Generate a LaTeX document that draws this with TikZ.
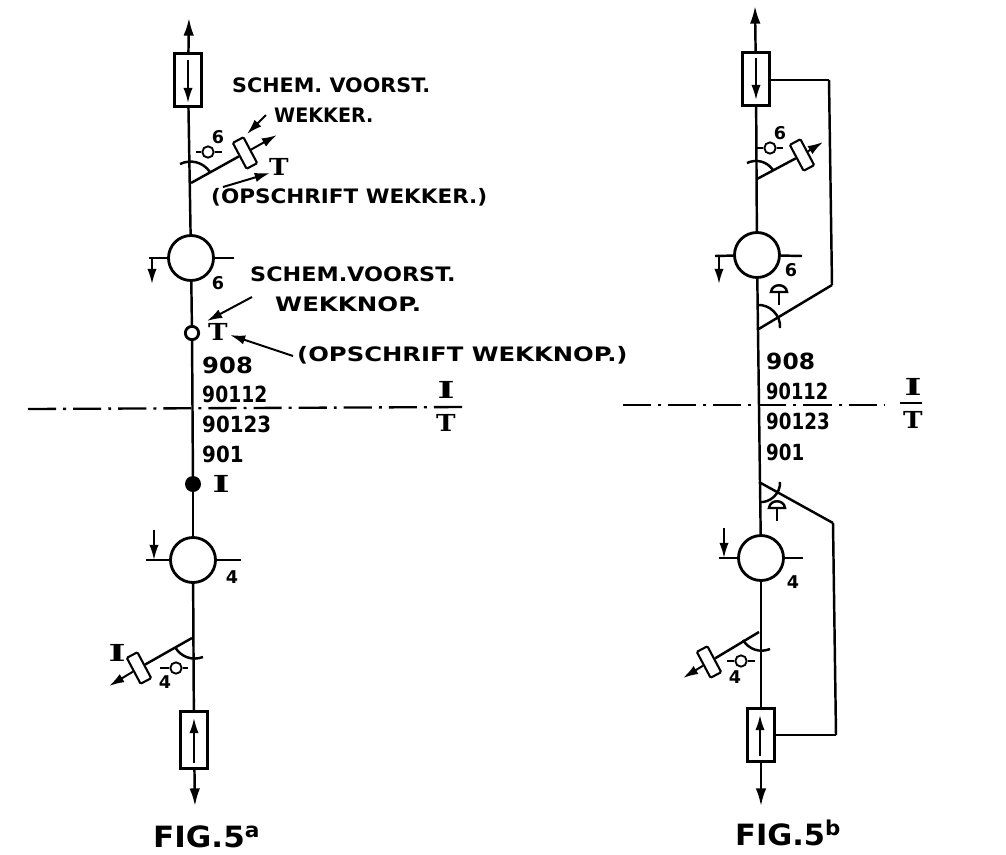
\documentclass[tikz,border=0pt]{standalone}
\usepackage{fontspec}
\usetikzlibrary{arrows.meta}
\setmainfont{DejaVu Sans}
\newfontfamily\slab{DejaVu Serif}
\newcommand{\wide}[2]{\scalebox{#1}[1]{#2}}
\tikzset{
	wire/.style={line width=2.1pt,-},
	tipwire/.style={line width=2.1pt,-{Latex[length=15pt,width=9pt]}},
	pointer/.style={line width=1.7pt,-{Latex[length=13pt,width=8pt]}},
	axisline/.style={line width=2pt,dash pattern=on 24pt off 6pt on 2.5pt off 6pt},
	sein/.style={draw,circle,line width=2.4pt,minimum size=1.35cm,inner sep=0pt},
	lamp/.style={draw,circle,line width=1.6pt,minimum size=0.34cm,inner sep=0pt},
	relais/.style={draw,rectangle,line width=2.3pt,minimum width=0.8cm,minimum height=1.6cm,inner sep=0pt},
	wekker/.style={draw,rectangle,line width=1.8pt,rounded corners=1pt,minimum width=0.36cm,minimum height=0.88cm,inner sep=0pt,rotate=28},
	word/.style={anchor=west,inner sep=0pt,font=\fontsize{17}{20}\selectfont\bfseries},
	num/.style={anchor=west,inner sep=0pt,font=\fontsize{19}{22}\selectfont\bfseries},
	digit/.style={inner sep=0pt,font=\fontsize{15}{17}\selectfont\bfseries},
	letter/.style={inner sep=0pt,font=\fontsize{20}{22}\slab\selectfont\bfseries},
	figlabel/.style={anchor=west,inner sep=0pt,font=\fontsize{25}{29}\selectfont\bfseries},
}
\begin{document}
\begin{tikzpicture}[x=0.03cm,y=-0.03cm]
		\useasboundingbox (0,0) rectangle (1006,854);

		\coordinate(tipa)at(189,18);
		\node[relais] at (188,80)(boxa){};
		\coordinate(ina)at(188,60);
		\coordinate(inb)at(188,103);
		\node[sein] at (191,258)(seina){};
		\coordinate(junca)at(191,183);
		\node[wekker] at (245,153)(weka){};
		\coordinate(wektipa)at(277,135);
		\coordinate(arca)at(180,164);
		\coordinate(arcb)at(210,172);
		\node[lamp] at (208,152)(lampa){};
		\coordinate(stuba)at(196,152);
		\coordinate(stubb)at(222,152);
		\coordinate(righta)at(234,258);
		\coordinate(lefta)at(149,258);
		\coordinate(turna)at(152,258);
		\coordinate(turnb)at(152,284);
		\node[digit] at (218,137)(sixa){6};
		\node[digit] at (218,283)(sixb){6};
		\node[word] at (232,85)(schema){\wide{1.04}{SCHEM. VOORST.}};
		\node[word] at (274,115)(wekkera){\wide{0.96}{WEKKER.}};
		\node[letter] at (279,167)(ta){\wide{1.12}{T}};
		\node[word] at (211,197)(opsa){\wide{1.08}{(OPSCHRIFT WEKKER.)}};
		\coordinate(pa)at(266,115);
		\coordinate(pb)at(247,134);
		\coordinate(pc)at(223,187);
		\coordinate(pd)at(270,173);
		\node[word] at (250,274)(schemb){\wide{1.12}{SCHEM.VOORST.}};
		\node[word] at (275,304)(wekknop){\wide{1.23}{WEKKNOP.}};
		\node[lamp,line width=2.4pt,minimum size=0.4cm] at (192,333)(knopa){};
		\node[letter] at (218,332)(tb){\wide{1.12}{T}};
		\node[word] at (297,355)(opsb){\wide{1.22}{(OPSCHRIFT WEKKNOP.)}};
		\coordinate(pe)at(252,297);
		\coordinate(pf)at(207,321);
		\coordinate(pg)at(293,356);
		\coordinate(ph)at(230,335);
		\node[num] at (202,365)(numa){\wide{1.09}{908}};
		\node[num] at (202,394)(numb){\wide{0.84}{90112}};
		\node[num] at (202,424)(numc){\wide{0.89}{90123}};
		\node[num] at (202,454)(numd){\wide{0.89}{901}};
		\coordinate(axa)at(28,409);
		\coordinate(axb)at(463,407);
		\node[letter] at (446,390)(ia){\wide{1.55}{I}};
		\node[letter] at (446,423)(tc){\wide{1.12}{T}};
		\coordinate(bara)at(434,407);
		\coordinate(barb)at(458,407);
		\node[circle,fill,inner sep=0pt,minimum size=0.48cm] at (193,484)(knopb){};
		\node[letter] at (221,484)(ib){\wide{1.55}{I}};
		\node[sein] at (193,560)(seinb){};
		\coordinate(rightb)at(241,560);
		\coordinate(leftb)at(146,560);
		\coordinate(turnc)at(154,530);
		\coordinate(turnd)at(154,560);
		\node[digit] at (232,577)(foura){4};
		\coordinate(juncb)at(192,638);
		\node[wekker] at (139,668)(wekb){};
		\coordinate(wektipb)at(109,686);
		\coordinate(arcc)at(175,647);
		\coordinate(arcd)at(203,657);
		\node[lamp] at (176,668)(lampb){};
		\coordinate(stubc)at(160,668);
		\coordinate(stubd)at(188,668);
		\node[letter] at (117,653)(id){\wide{1.55}{I}};
		\node[digit] at (165,682)(fourb){4};
		\node[relais,minimum height=1.72cm] at (194,740)(boxb){};
		\coordinate(inc)at(194,763);
		\coordinate(ind)at(194,718);
		\coordinate(tipb)at(195,806);
		\node[figlabel] at (153,837)(figa){\wide{1.06}{FIG.5\textsuperscript{a}}};
		\path[tipwire](boxa)edge(tipa);
		\path[wire](boxa)edge(seina)(seina)edge(knopa)(knopa)edge(knopb)(knopb)edge(seinb)(seinb)edge(boxb);
		\path[wire](junca)edge(weka)(seina)edge(righta)(lefta)edge(seina)(stuba)edge(lampa)(lampa)edge(stubb);
		\path[wire](juncb)edge(wekb)(seinb)edge(rightb)(leftb)edge(seinb)(stubc)edge(lampb)(lampb)edge(stubd);
		\path[wire](bara)edge(barb);
		\path[tipwire](boxb)edge(tipb);
		\path[pointer](ina)edge(inb)(inc)edge(ind)(turna)edge(turnb)(turnc)edge(turnd)(weka)edge(wektipa)(wekb)edge(wektipb);
		\path[pointer](pa)edge(pb)(pc)edge(pd)(pe)edge(pf)(pg)edge(ph);
		\path[wire](arca)edge[bend left=40](arcb)(arcc)edge[bend right=40](arcd);
		\path[axisline](axa)edge(axb);

		\coordinate(tipc)at(755,6);
		\node[relais] at (756,79)(boxc){};
		\coordinate(ine)at(756,58);
		\coordinate(inf)at(756,100);
		\node[sein] at (757,255)(seinc){};
		\coordinate(juncc)at(757,179);
		\node[wekker] at (802,155)(wekc){};
		\coordinate(wektipc)at(823,142);
		\coordinate(arce)at(747,163);
		\coordinate(arcf)at(773,170);
		\node[lamp] at (770,148)(lampc){};
		\coordinate(stube)at(757,148);
		\coordinate(stubf)at(783,148);
		\coordinate(rightc)at(802,256);
		\coordinate(leftc)at(715,256);
		\coordinate(turne)at(719,256);
		\coordinate(turnf)at(719,284);
		\node[digit] at (780,133)(sixc){6};
		\node[digit] at (791,270)(sixd){6};
		\coordinate(corna)at(829,80);
		\coordinate(cornb)at(832,285);
		\coordinate(junce)at(757,330);
		\coordinate(arcg)at(757,305);
		\coordinate(arch)at(780,328);
		\coordinate(domea)at(779,292);
		\coordinate(domeb)at(779,305);
		\node[num] at (766,361)(nume){\wide{1.05}{908}};
		\node[num] at (766,391)(numf){\wide{0.8}{90112}};
		\node[num] at (766,421)(numg){\wide{0.82}{90123}};
		\node[num] at (766,452)(numh){\wide{0.82}{901}};
		\coordinate(axc)at(623,405);
		\coordinate(axd)at(885,405);
		\node[letter] at (913,387)(ic){\wide{1.55}{I}};
		\node[letter] at (913,420)(td){\wide{1.12}{T}};
		\coordinate(barc)at(900,403);
		\coordinate(bard)at(922,403);
		\coordinate(juncf)at(759,482);
		\coordinate(cornc)at(833,523);
		\coordinate(corne)at(836,735);
		\coordinate(arci)at(780,482);
		\coordinate(arcj)at(759,502);
		\coordinate(domec)at(777,508);
		\coordinate(domed)at(777,521);
		\node[sein] at (761,558)(seind){};
		\coordinate(rightd)at(803,558);
		\coordinate(leftd)at(719,558);
		\coordinate(turng)at(724,528);
		\coordinate(turnh)at(724,558);
		\node[digit] at (793,582)(fourc){4};
		\coordinate(juncd)at(759,632);
		\node[wekker] at (709,662)(wekd){};
		\coordinate(wektipd)at(683,678);
		\coordinate(arck)at(743,640);
		\coordinate(arcl)at(770,649);
		\node[lamp] at (741,661)(lampd){};
		\coordinate(stubg)at(727,661);
		\coordinate(stubh)at(755,661);
		\node[digit] at (735,677)(fourd){4};
		\node[relais] at (761,735)(boxd){};
		\coordinate(ing)at(760,756);
		\coordinate(inh)at(760,715);
		\coordinate(tipd)at(761,806);
		\node[figlabel] at (735,833)(figb){\wide{1.04}{FIG.5\textsuperscript{b}}};
		\path[tipwire](boxc)edge(tipc);
		\path[wire](boxc)edge(seinc)(seinc)edge(seind)(seind)edge(boxd);
		\path[tipwire](boxd)edge(tipd);
		\path[wire](boxc.east|-corna)edge(corna)(corna)edge(cornb)(cornb)edge(junce);
		\path[wire](juncf)edge(cornc)(cornc)edge(corne)(corne)edge(boxd.east|-corne);
		\path[wire](juncc)edge(wekc)(seinc)edge(rightc)(leftc)edge(seinc)(stube)edge(lampc)(lampc)edge(stubf);
		\path[wire](juncd)edge(wekd)(seind)edge(rightd)(leftd)edge(seind)(stubg)edge(lampd)(lampd)edge(stubh);
		\path[wire](barc)edge(bard);
		\path[pointer](ine)edge(inf)(ing)edge(inh)(turne)edge(turnf)(turng)edge(turnh)(wekc)edge(wektipc)(wekd)edge(wektipd);
		\path[wire](arce)edge[bend left=40](arcf)(arcg)edge[bend left=50](arch)(arci)edge[bend left=50](arcj)(arck)edge[bend right=40](arcl);
		\path[wire](domea)edge(domeb)(domec)edge(domed);
		\draw[wire] (771,292) .. controls (772,283) and (786,283) .. (787,292) -- cycle;
		\draw[wire] (769,508) .. controls (770,499) and (784,499) .. (785,508) -- cycle;
		\path[axisline](axc)edge(axd);
	\end{tikzpicture}
\end{document}
